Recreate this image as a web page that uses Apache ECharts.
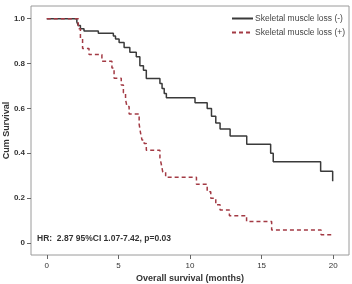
<!DOCTYPE html>
<html>
<head>
<meta charset="utf-8">
<script src="https://cdn.jsdelivr.net/npm/echarts@6/dist/echarts.min.js"></script>
<style>
  html, body { margin: 0; padding: 0; background: #fff; }
  #chart { width: 352px; height: 284px; }
</style>
</head>
<body>
<div id="chart"></div>
<script>
// Kaplan-Meier steps: [month, survival after the drop]
const lossNeg = [
  [0, 1], [2.1, 0.985], [2.2, 0.97], [2.35, 0.955], [2.6, 0.945], [3.6, 0.935],
  [4.65, 0.923], [4.8, 0.91], [5.05, 0.894], [5.4, 0.872], [5.8, 0.85], [6.25, 0.83],
  [6.5, 0.79], [6.75, 0.77], [6.95, 0.733], [7.9, 0.711], [8.05, 0.689], [8.2, 0.667],
  [8.35, 0.647], [10.35, 0.625], [11.2, 0.6], [11.5, 0.565], [11.8, 0.535], [12.1, 0.508],
  [12.8, 0.477], [13.96, 0.44], [15.63, 0.4], [15.81, 0.362], [19.12, 0.32], [19.96, 0.275]
];
const lossPos = [
  [0, 1], [2.2, 0.955], [2.35, 0.91], [2.5, 0.867], [2.95, 0.84], [3.85, 0.81],
  [4.55, 0.78], [4.7, 0.735], [5.2, 0.704], [5.35, 0.67], [5.5, 0.64], [5.6, 0.608],
  [5.75, 0.575], [6.45, 0.53], [6.55, 0.49], [6.65, 0.459], [6.8, 0.444], [6.95, 0.414],
  [7.9, 0.38], [8.0, 0.35], [8.1, 0.316], [8.3, 0.293], [10.45, 0.262], [11.2, 0.229],
  [11.45, 0.2], [11.8, 0.17], [12.1, 0.147], [12.75, 0.122], [13.95, 0.096], [15.7, 0.058],
  [19.15, 0.037], [19.91, 0.028]
];
const xTicks = [0, 5, 10, 15, 20];
const yTicks = [0, 0.2, 0.4, 0.6, 0.8, 1.0];
const seriesNames = ['Skeletal muscle loss (-)', 'Skeletal muscle loss (+)'];
const hrText = 'HR:  2.87 95%CI 1.07-7.42, p=0.03';

const font = '"Liberation Sans", Arial, sans-serif';
const chart = echarts.init(document.getElementById('chart'), null, { renderer: 'canvas' });

chart.setOption({
  animation: false,
  grid: {
    left: 31, top: 6, right: 3, bottom: 29,
    containLabel: false, outerBoundsMode: 'none',
    show: true, borderColor: '#9a9a9a', borderWidth: 1
  },
  legend: {
    orient: 'vertical',
    right: 2, top: 9,
    itemWidth: 21, itemHeight: 8, itemGap: 5,
    itemStyle: { opacity: 0 },
    textStyle: { fontFamily: font, fontSize: 8.5, color: '#444', padding: [0, 0, 0, -3] },
    data: seriesNames
  },
  xAxis: {
    type: 'value', min: -1.1, max: 21.1,
    name: 'Overall survival (months)',
    nameLocation: 'middle', nameGap: 19, nameMoveOverlap: false,
    nameTextStyle: { fontFamily: font, fontSize: 9, fontWeight: 'bold', color: '#333' },
    axisLine: { show: false, onZero: false },
    splitLine: { show: false },
    axisTick: { show: true, customValues: xTicks, length: 4, lineStyle: { color: '#666' } },
    axisLabel: {
      customValues: xTicks, margin: 7,
      fontFamily: font, fontSize: 8, color: '#333'
    }
  },
  yAxis: {
    type: 'value', min: -0.0535, max: 1.0566,
    name: 'Cum Survival',
    nameLocation: 'middle', nameGap: 20, nameMoveOverlap: false,
    nameTextStyle: { fontFamily: font, fontSize: 9, fontWeight: 'bold', color: '#333' },
    axisLine: { show: false, onZero: false },
    splitLine: { show: false },
    axisTick: { show: true, customValues: yTicks, length: 4, lineStyle: { color: '#666' } },
    axisLabel: {
      customValues: yTicks, margin: 6,
      fontFamily: font, fontSize: 8, fontWeight: 'bold', color: '#333',
      formatter: v => (v === 0 ? '0' : v.toFixed(1))
    }
  },
  graphic: [{
    type: 'text', left: 37, top: 234,
    style: { text: hrText, font: 'bold 8.5px ' + font, fill: '#333' }
  }],
  series: [
    {
      name: seriesNames[0], type: 'line', step: 'end', symbol: 'none',
      data: lossNeg,
      lineStyle: { color: '#3a3a3a', width: 1.5 },
      itemStyle: { color: '#3a3a3a' }
    },
    {
      name: seriesNames[1], type: 'line', step: 'end', symbol: 'none',
      data: lossPos,
      lineStyle: { color: '#a33a44', width: 1.5, type: [4, 3] },
      itemStyle: { color: '#a33a44' }
    }
  ]
});
</script>
</body>
</html>
